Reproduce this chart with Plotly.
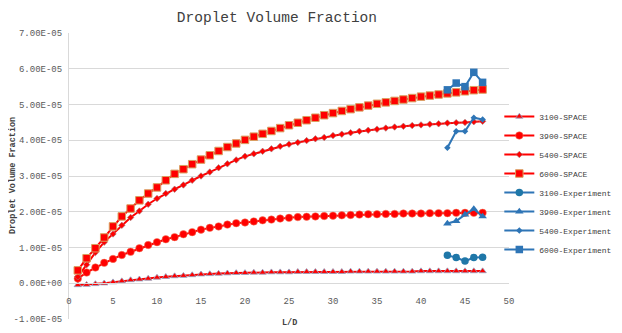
import plotly.graph_objects as go

# ---------------- data ----------------
x_space = [1, 2, 3, 4, 5, 6, 7, 8, 9, 10, 11, 12, 13, 14, 15, 16, 17, 18, 19, 20,
           21, 22, 23, 24, 25, 26, 27, 28, 29, 30, 31, 32, 33, 34, 35, 36, 37, 38, 39, 40,
           41, 42, 43, 44, 45, 46, 47]
x_exp = [43, 44, 45, 46, 47]

space_3100 = [-0.05, -0.04, -0.02, 0.00, 0.03, 0.06, 0.09, 0.11, 0.13, 0.16,
              0.18, 0.20, 0.21, 0.23, 0.25, 0.26, 0.27, 0.28, 0.29, 0.29,
              0.30, 0.30, 0.31, 0.31, 0.31, 0.32, 0.32, 0.32, 0.32, 0.32,
              0.32, 0.33, 0.33, 0.33, 0.33, 0.33, 0.33, 0.33, 0.33, 0.34,
              0.34, 0.34, 0.34, 0.34, 0.34, 0.34, 0.34]
space_3900 = [0.13, 0.30, 0.44, 0.57, 0.68, 0.79, 0.88, 0.98, 1.07, 1.15,
              1.23, 1.29, 1.37, 1.43, 1.50, 1.55, 1.59, 1.64, 1.68, 1.70,
              1.73, 1.76, 1.78, 1.81, 1.83, 1.85, 1.86, 1.87, 1.88, 1.89,
              1.90, 1.91, 1.92, 1.93, 1.93, 1.94, 1.94, 1.95, 1.95, 1.95,
              1.96, 1.96, 1.96, 1.97, 1.97, 1.97, 1.97]
space_5400 = [0.18, 0.52, 0.86, 1.15, 1.38, 1.62, 1.84, 2.02, 2.21, 2.37,
              2.51, 2.63, 2.75, 2.88, 3.00, 3.11, 3.23, 3.34, 3.45, 3.55,
              3.62, 3.69, 3.76, 3.83, 3.89, 3.94, 3.99, 4.04, 4.08, 4.13,
              4.17, 4.21, 4.25, 4.28, 4.31, 4.34, 4.37, 4.39, 4.41, 4.43,
              4.45, 4.46, 4.48, 4.49, 4.50, 4.52, 4.53]
space_6000 = [0.36, 0.70, 0.98, 1.28, 1.59, 1.87, 2.09, 2.32, 2.51, 2.68,
              2.88, 3.06, 3.19, 3.33, 3.46, 3.58, 3.70, 3.81, 3.91, 4.01,
              4.10, 4.18, 4.26, 4.34, 4.42, 4.49, 4.56, 4.63, 4.70, 4.76,
              4.82, 4.87, 4.92, 4.97, 5.02, 5.06, 5.10, 5.14, 5.18, 5.22,
              5.25, 5.28, 5.31, 5.34, 5.37, 5.40, 5.42]

exp_3100 = [0.78, 0.72, 0.62, 0.72, 0.73]
exp_3900 = [1.67, 1.74, 1.92, 2.08, 1.87]
exp_5400 = [3.79, 4.25, 4.25, 4.63, 4.58]
exp_6000 = [5.41, 5.60, 5.50, 5.90, 5.62]

scale = 1e-5

y_tickvals = [-1, 0, 1, 2, 3, 4, 5, 6, 7]
y_ticktext = ["-1.00E-05", "0.00E+00", "1.00E-05", "2.00E-05", "3.00E-05",
              "4.00E-05", "5.00E-05", "6.00E-05", "7.00E-05"]
x_tickvals = [0, 5, 10, 15, 20, 25, 30, 35, 40, 45, 50]

# ---------------- figure ----------------
RED = "#FF0000"
BLUE = "#2E75B6"
FONT = "Liberation Mono"

fig = go.Figure()


def s(vals):
    return [v * scale for v in vals]


fig.add_trace(go.Scatter(
    x=x_space, y=s(space_3100), name="3100-SPACE", mode="lines+markers",
    line=dict(color=RED, width=2),
    marker=dict(symbol="triangle-up", size=6.5, color=RED,
                line=dict(color="#8FA8C8", width=0.8))))
fig.add_trace(go.Scatter(
    x=x_space, y=s(space_3900), name="3900-SPACE", mode="lines+markers",
    line=dict(color=RED, width=2),
    marker=dict(symbol="circle", size=7.5, color=RED,
                line=dict(color="#F08060", width=0.5))))
fig.add_trace(go.Scatter(
    x=x_space, y=s(space_5400), name="5400-SPACE", mode="lines+markers",
    line=dict(color=RED, width=2),
    marker=dict(symbol="diamond", size=5, color=RED,
                line=dict(color="#A08080", width=0.6))))
fig.add_trace(go.Scatter(
    x=x_space, y=s(space_6000), name="6000-SPACE", mode="lines+markers",
    line=dict(color=RED, width=2),
    marker=dict(symbol="square", size=7.5, color=RED,
                line=dict(color="#D9A060", width=1))))

fig.add_trace(go.Scatter(
    x=x_exp, y=s(exp_3100), name="3100-Experiment", mode="lines+markers",
    line=dict(color=BLUE, width=2),
    marker=dict(symbol="circle", size=7.5, color="#1F77A8")))
fig.add_trace(go.Scatter(
    x=x_exp, y=s(exp_3900), name="3900-Experiment", mode="lines+markers",
    line=dict(color=BLUE, width=2),
    marker=dict(symbol="triangle-up", size=7.5, color=BLUE)))
fig.add_trace(go.Scatter(
    x=x_exp, y=s(exp_5400), name="5400-Experiment", mode="lines+markers",
    line=dict(color=BLUE, width=2),
    marker=dict(symbol="diamond", size=5, color=BLUE)))
fig.add_trace(go.Scatter(
    x=x_exp, y=s(exp_6000), name="6000-Experiment", mode="lines+markers",
    line=dict(color=BLUE, width=2),
    marker=dict(symbol="square", size=7.5, color=BLUE)))

# position of zero line in paper coords for the x axis
y_min, y_max = -1 * scale, 7 * scale
zero_frac = (0 - y_min) / (y_max - y_min)

fig.update_layout(
    width=614, height=325,
    margin=dict(l=61, r=113, t=25, b=14, autoexpand=False),
    paper_bgcolor="white", plot_bgcolor="white",
    font=dict(family=FONT, size=9, color="#595959"),
    title=dict(text="Droplet Volume Fraction", x=0.438, xanchor="center",
               y=0.972, yanchor="middle",
               font=dict(family=FONT, size=14.5, color="#404040")),
    showlegend=True,
    legend=dict(x=0.978, xanchor="left", y=0.4755, yanchor="middle",
                font=dict(family=FONT, size=8, color="#404040"),
                bgcolor="rgba(0,0,0,0)", tracegroupgap=0, itemwidth=30),
    xaxis=dict(range=[0, 50], tickvals=x_tickvals, showgrid=False,
               zeroline=False, showline=True, linecolor="#D9D9D9", linewidth=1,
               anchor="free", position=zero_frac, ticks="",
               ticklabelstandoff=9,
               tickfont=dict(family=FONT, size=9, color="#595959")),
    yaxis=dict(range=[y_min, y_max], tickvals=[v * scale for v in y_tickvals],
               ticktext=y_ticktext, showgrid=True, gridcolor="#D9D9D9",
               gridwidth=1, zeroline=False, showline=True, linecolor="#D9D9D9",
               ticks="", ticklabelstandoff=4,
               tickfont=dict(family=FONT, size=9, color="#595959")),
    annotations=[
        dict(text="<b>Droplet Volume Fraction</b>", xref="paper", yref="paper",
             x=-0.127, y=0.5, xanchor="center", yanchor="middle",
             textangle=-90, showarrow=False,
             font=dict(family=FONT, size=8.5, color="#404040")),
        dict(text="<b>L/D</b>", xref="paper", yref="paper", x=0.5, y=0,
             xanchor="center", yanchor="middle", yshift=-4, showarrow=False,
             font=dict(family=FONT, size=8.5, color="#404040")),
    ],
)

fig.write_html("out.html")
